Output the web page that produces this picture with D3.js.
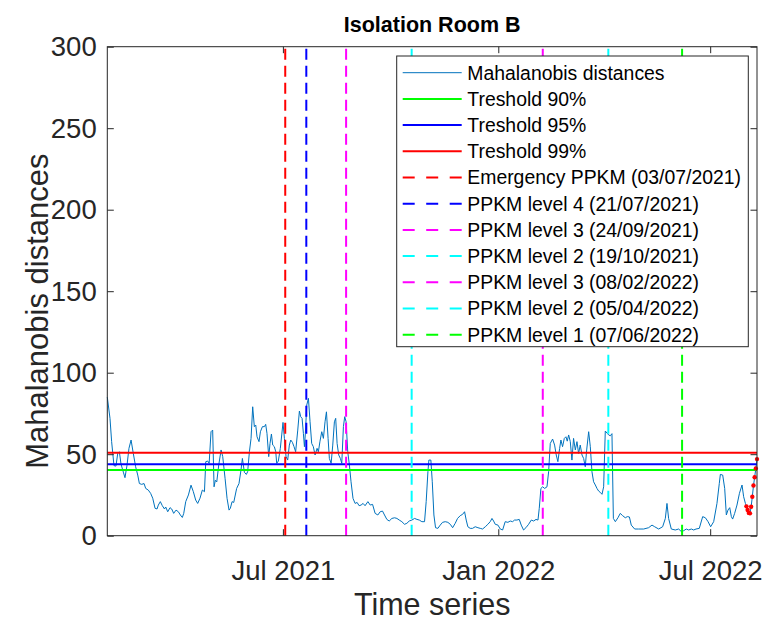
<!DOCTYPE html>
<html>
<head>
<meta charset="utf-8">
<script src="https://cdn.jsdelivr.net/npm/d3@7"></script>
<style>
  body { margin: 0; background: #fff; }
  svg { display: block; font-family: "Liberation Sans", Arial, Helvetica, sans-serif; }
</style>
</head>
<body>
<div id="chart"></div>
<script>
// Days counted from the first sample (01/02/2021) and the distance read at that day
const seriesStart = "2021-02-01"
const distDay = [
  0, 2.3, 3.7, 5.7, 7.4, 8.9, 10.3, 11.7, 13.7, 15.1, 16.8, 18.5, 20.3, 22.2, 24.2, 26, 27.4, 29.4, 31.4, 32.8,
  35, 37, 38.8, 40.8, 42.5, 43.6, 45.3, 47, 48.8, 49.9, 51.6, 53.6, 55, 56.7, 58.7, 60.7, 62.4, 64.1, 65.3, 67,
  69.3, 71.5, 73.5, 75.5, 77.2, 79.2, 81.2, 83, 84.1, 85.8, 87, 88.6, 90, 91.2, 92.3, 93.5, 95.2, 97.2, 98.6, 100.6,
  102.3, 104, 105.1, 106.6, 108, 110.5, 112.5, 114.2, 115.4, 117.1, 118.8, 119.9, 121.4, 122.8, 124.2, 125.6, 126.8, 127.9, 129.6, 130.8,
  132.5, 134.2, 135.3, 136.4, 137.9, 139, 140.2, 141.3, 142.7, 143.9, 144.7, 146.1, 147.8, 149, 150.1, 151.3, 152.7, 154.1, 155.5, 156.7,
  158.1, 159.5, 160.9, 162.7, 164.1, 165.2, 166.4, 167.5, 168.4, 169.2, 170.4, 171.8, 173.2, 174.6, 176, 177.5, 179.2, 180.3, 181.7, 183.2,
  184.6, 186, 187.2, 188.6, 189.7, 191.2, 192.6, 194, 195.1, 196.3, 197.7, 199.1, 200.3, 201.7, 202.8, 204, 205.4, 206.8, 208.2, 209.9,
  211.7, 213.4, 215.1, 216.8, 218.5, 220.2, 222.6, 224.6, 226.6, 228.8, 231.1, 233.1, 235.1, 236.8, 238.8, 240.8, 243.1, 245.4, 247.4, 249.4,
  251.6, 253.9, 255.9, 257.9, 260.2, 262.5, 264.5, 266.5, 268.7, 271, 272.4, 273.9, 274.7, 276.4, 277.6, 279, 280.4, 282.4, 284.4, 286.4,
  288.7, 290.9, 293, 295, 297.2, 299.2, 301.5, 303.5, 305.2, 306.6, 308, 310, 312, 314.3, 316.6, 318.6, 320.6, 322.9, 325.1, 327.1,
  328.6, 330, 331.4, 333.7, 335.7, 337.7, 339.9, 342.2, 344.2, 346.2, 347.9, 349.9, 351.9, 353.6, 355.6, 357.6, 359.9, 362.2, 364.2, 366.2,
  367.9, 369, 370.4, 371.9, 373.6, 375.6, 377, 378.4, 380.4, 382.1, 383.5, 384.9, 386.4, 387.5, 388.9, 390.4, 391.8, 392.9, 394.1, 395.5,
  396.9, 398.3, 399.8, 401.2, 402.6, 404, 405.5, 406.9, 408.3, 409.5, 411.2, 412.6, 414, 415.4, 416.9, 418.3, 419.7, 421.1, 422.6, 424,
  425.4, 427.1, 428.3, 429.7, 431.1, 432.3, 434, 436.2, 438.2, 440.2, 442.5, 444.2, 446, 447.6, 450.5, 453.9, 458.2, 462.4, 465.3, 467.6,
  471, 474.4, 476.7, 478.1, 479.5, 481.8, 485.2, 488.1, 490.4, 492.4, 494.6, 496.6, 498.9, 500.9, 502.9, 505.7, 508.6, 510.9, 513.2, 515.4,
  518, 520.8, 522.8, 523.7, 525.7, 527.4, 528.8, 530.2, 531.7, 533.1, 534.2, 535.9, 537.9, 540, 542.2, 543.6, 545.1,
  546, 547, 548, 549, 550, 551, 552, 553, 554, 555
]
const distValue = [
  85, 72, 57.7, 43, 42.7, 50.5, 51.5, 44, 39, 35.6, 43, 53.6, 58.7, 50.5, 42.3, 37.2, 32, 31.5, 32, 29,
  28, 26, 23, 16.8, 16.4, 18.8, 20.9, 18.4, 16.4, 17.6, 14.7, 17.2, 16.4, 13.7, 15.7, 14.7, 12.7, 11.2, 13.7, 20.9,
  25, 31, 27, 21.9, 19.8, 23, 28, 27, 45.4, 45.8, 44.4, 63.8, 64.8, 30, 34, 33, 43.4, 52.6, 48.5, 35.2,
  22.9, 15.7, 16.8, 20.9, 20.4, 29, 32, 40.3, 47.4, 38.9, 37.6, 39.3, 51.5, 59.7, 79.1, 66.9, 67.9, 60.7, 57.7, 63.8,
  66.9, 66.9, 68.3, 62.8, 48.5, 56.6, 62.4, 55.6, 54.6, 51.5, 44.4, 45.8, 53.6, 61.8, 69.5, 59.7, 48.5, 46.4, 55.6, 58.7,
  57.3, 54.6, 51.5, 64.8, 76.5, 73, 72, 62.8, 54.6, 62.8, 80.2, 84.3, 69.9, 56.6, 54.6, 49.5, 53.6, 51.5, 58, 63.8,
  59.7, 69.9, 76, 59.7, 47.4, 44.4, 55.6, 69.9, 72, 56.6, 49.5, 47.4, 44.4, 66.9, 73, 69.9, 51.5, 43.4, 33.1, 22.9,
  19.8, 20.4, 18.4, 18.8, 19.8, 18.4, 20.9, 18.8, 19.2, 13.7, 12.7, 14.7, 15.1, 12.7, 10, 9, 10.6, 11, 10.6, 9.6,
  8.6, 7, 7.6, 9, 9.6, 10.6, 10, 9.6, 8.6, 8.6, 20.9, 39.3, 46.4, 46.4, 33.1, 12.7, 4.9, 4.5, 6.5, 8.2,
  8.6, 8.2, 7, 4.9, 7.6, 10.6, 12.3, 13.1, 14.7, 9.6, 5.5, 4.5, 4.5, 5.5, 4.9, 4.5, 4.1, 5.5, 7, 8.6,
  10.6, 9, 7, 6.5, 4.1, 3.5, 8.6, 8.2, 9, 8.6, 9.6, 9.6, 10, 6.5, 3.5, 4.9, 7, 9.6, 9, 10,
  9.6, 16.8, 29, 30, 29, 30, 39.3, 56.6, 59.3, 55.6, 49.5, 45.4, 53.6, 58.7, 54.6, 59.7, 60.7, 58, 61.8, 57.7,
  46.4, 59.7, 52.6, 57.7, 50.5, 55.6, 49.5, 47.4, 42.3, 52.6, 63.8, 54.6, 39.3, 33.1, 31.1, 29, 27.4, 26.6, 25.4, 30,
  64.2, 62.8, 61.8, 61.3, 62.6, 10.6, 8.6, 11, 13.7, 12.3, 11, 11.7, 11.5, 6.5, 4.1, 4.1, 4.1, 4.9, 6.5, 5.5,
  4.1, 5.5, 10.6, 19.8, 10.6, 4.1, 3.5, 4.1, 2.5, 3.1, 4.1, 3.5, 4.1, 3.5, 4.1, 4.5, 11.7, 11, 8.6, 5.5,
  8.6, 19.8, 32.1, 37.6, 37.2, 29, 12.7, 15.7, 17.2, 11.7, 10.2, 13.7, 18.8, 26, 31.1, 23.9, 19.8,
  18, 15.8, 14, 13.7, 17.8, 23.9, 30.8, 35.9, 41.3, 47
]
// the last ten days are marked in red
const markedFrom = 546

// thresholds (chi-square, 30 dof)
const thresholdNames = ["Treshold 90%", "Treshold 95%", "Treshold 99%"]
const thresholdValues = [40.26, 43.77, 50.89]
const thresholdColors = ["#00ff00", "#0000ff", "#ff0000"]

// policy events
const eventNames = [
  "Emergency PPKM (03/07/2021)", "PPKM level 4 (21/07/2021)", "PPKM level 3 (24/09/2021)",
  "PPKM level 2 (19/10/2021)", "PPKM level 3 (08/02/2022)", "PPKM level 2 (05/04/2022)",
  "PPKM level 1 (07/06/2022)"
]
const eventDates = ["2021-07-03", "2021-07-21", "2021-08-24", "2021-10-19", "2022-02-08", "2022-04-05", "2022-06-07"]
const eventColors = ["#ff0000", "#0000ff", "#ff00ff", "#00ffff", "#ff00ff", "#00ffff", "#00ff00"]

const xTicks = ["2021-07-01", "2022-01-01", "2022-07-01"]
const yTicks = [0, 50, 100, 150, 200, 250, 300]

const width = 763, height = 621
const margin = { left: 107.3, right: 6, top: 46.7, bottom: 85.3 }
const axisColor = "#262626"
const lineBlue = "#0072bd"

const parse = d3.timeParse("%Y-%m-%d")
const t0 = parse(seriesStart)
const dayToDate = d => new Date(t0.getTime() + d * 864e5)
const series = distDay.map((d, i) => ({ date: dayToDate(d), value: distValue[i], day: d }))

const svg = d3.select("#chart").append("svg")
  .attr("width", width).attr("height", height)

const x = d3.scaleTime()
  .domain([t0, dayToDate(555)])
  .range([margin.left, width - margin.right])
const y = d3.scaleLinear()
  .domain([0, 300])
  .range([height - margin.bottom, margin.top])

const plot = svg.append("g")

// main line
const line = d3.line().x(d => x(d.date)).y(d => y(d.value))
plot.append("path")
  .datum(series)
  .attr("fill", "none")
  .attr("stroke", lineBlue)
  .attr("stroke-width", 1)
  .attr("stroke-linejoin", "round")
  .attr("d", line)

// thresholds
thresholdValues.forEach((v, i) => {
  plot.append("line")
    .attr("x1", x.range()[0]).attr("x2", x.range()[1])
    .attr("y1", y(v)).attr("y2", y(v))
    .attr("stroke", thresholdColors[i])
    .attr("stroke-width", 2)
})

// event lines, drawn from bottom up so the dash starts at the axis
eventDates.forEach((d, i) => {
  plot.append("line")
    .attr("x1", x(parse(d))).attr("x2", x(parse(d)))
    .attr("y1", y(0)).attr("y2", y(300))
    .attr("stroke", eventColors[i])
    .attr("stroke-width", 2)
    .attr("stroke-dasharray", "11,6")
})

// marked tail
plot.selectAll("circle.tail")
  .data(series.filter(d => d.day >= markedFrom))
  .join("circle")
  .attr("class", "tail")
  .attr("cx", d => x(d.date)).attr("cy", d => y(d.value))
  .attr("r", 2.2)
  .attr("fill", "#ff0000")

// axes
const fmt = d3.timeFormat("%b %Y")
const xAxis = svg.append("g")
  .attr("transform", `translate(0,${y(0)})`)
  .call(d3.axisBottom(x).tickValues(xTicks.map(parse)).tickFormat(fmt).tickSize(-6.5).tickSizeOuter(0).tickPadding(25))
const xTop = svg.append("g")
  .attr("transform", `translate(0,${y(300)})`)
  .call(d3.axisTop(x).tickValues(xTicks.map(parse)).tickFormat("").tickSize(-6.5).tickSizeOuter(0))
const yAxis = svg.append("g")
  .attr("transform", `translate(${x.range()[0]},0)`)
  .call(d3.axisLeft(y).tickValues(yTicks).tickSize(-6.5).tickSizeOuter(0).tickPadding(10.6))
const yRight = svg.append("g")
  .attr("transform", `translate(${x.range()[1]},0)`)
  .call(d3.axisRight(y).tickValues(yTicks).tickFormat("").tickSize(-6.5).tickSizeOuter(0))

;[xAxis, xTop, yAxis, yRight].forEach(g => {
  g.select(".domain").remove()
  g.selectAll(".tick line").attr("stroke", axisColor)
  g.selectAll("text")
    .attr("fill", axisColor)
    .style("font-size", "27.5px")
    .style("font-family", "'Liberation Sans', Arial, sans-serif")
})

svg.append("rect")
  .attr("x", x.range()[0]).attr("y", y(300))
  .attr("width", x.range()[1] - x.range()[0])
  .attr("height", y(0) - y(300))
  .attr("fill", "none")
  .attr("stroke", axisColor)
  .attr("stroke-width", 1)

// labels
const cx = (x.range()[0] + x.range()[1]) / 2
svg.append("text")
  .attr("x", cx).attr("y", 32)
  .attr("text-anchor", "middle")
  .attr("font-size", 21.5).attr("font-weight", "bold")
  .attr("fill", "#000")
  .text("Isolation Room B")
svg.append("text")
  .attr("x", cx).attr("y", 615)
  .attr("text-anchor", "middle")
  .attr("font-size", 30.5)
  .attr("fill", axisColor)
  .text("Time series")
svg.append("text")
  .attr("transform", `translate(48,${(y(0) + y(300)) / 2 + 20}) rotate(-90)`)
  .attr("text-anchor", "middle")
  .attr("font-size", 31)
  .attr("fill", axisColor)
  .text("Mahalanobis distances")

// legend
const legendItems = [{ name: "Mahalanobis distances", color: lineBlue, dash: null, w: 1 }]
  .concat(thresholdNames.map((n, i) => ({ name: n, color: thresholdColors[i], dash: null, w: 2 })))
  .concat(eventNames.map((n, i) => ({ name: n, color: eventColors[i], dash: "12,11.5", w: 2 })))

const lg = svg.append("g").attr("transform", "translate(396.7,56)")
lg.append("rect")
  .attr("width", 351.6).attr("height", 290.7)
  .attr("fill", "#fff").attr("stroke", axisColor).attr("stroke-width", 1)
const rows = lg.selectAll("g.row")
  .data(legendItems)
  .join("g")
  .attr("class", "row")
  .attr("transform", (d, i) => `translate(0,${16.7 + i * 26.2})`)
rows.append("line")
  .attr("x1", 6).attr("x2", 65)
  .attr("stroke", d => d.color)
  .attr("stroke-width", d => d.w)
  .attr("stroke-dasharray", d => d.dash)
rows.append("text")
  .attr("x", 70.6)
  .attr("dy", "0.36em")
  .attr("font-size", 19.4)
  .attr("fill", "#000")
  .text(d => d.name)
</script>
</body>
</html>
